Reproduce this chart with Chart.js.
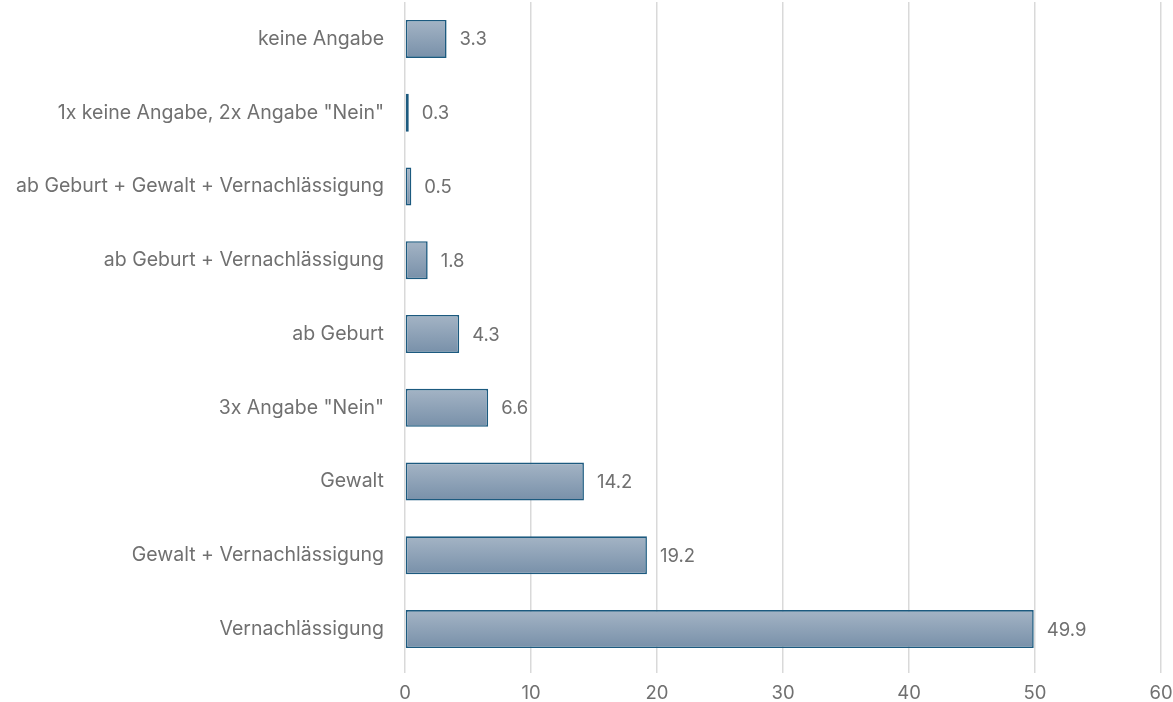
<!DOCTYPE html>
<html>
<head>
<meta charset="utf-8">
<script src="https://cdn.jsdelivr.net/npm/chart.js@4"></script>
<style>
  html, body { margin: 0; padding: 0; background: #fff; }
  .wrap { width: 1173px; height: 702px; position: relative; }
</style>
</head>
<body>
<div class="wrap"><canvas id="chart"></canvas></div>
<script>
const categories = [
  'keine Angabe',
  '1x keine Angabe, 2x Angabe "Nein"',
  'ab Geburt + Gewalt + Vernachlässigung',
  'ab Geburt + Vernachlässigung',
  'ab Geburt',
  '3x Angabe "Nein"',
  'Gewalt',
  'Gewalt + Vernachlässigung',
  'Vernachlässigung'
];
const values = [3.3, 0.3, 0.5, 1.8, 4.3, 6.6, 14.2, 19.2, 49.9];
const xTicks = [0, 10, 20, 30, 40, 50, 60];

const textColor = '#707070';
const fontFamily = 'Inter, "Open Sans", sans-serif';

function barFill(ctx) {
  const chart = ctx.chart;
  const y = chart.scales.y;
  if (!y) return '#8ea2b8';
  const cy = y.getPixelForValue(ctx.dataIndex);
  if (!isFinite(cy)) return '#8ea2b8';
  const g = chart.ctx.createLinearGradient(0, cy - 19, 0, cy + 19);
  g.addColorStop(0, '#a4b4c5');
  g.addColorStop(1, '#7890a9');
  return g;
}

const valueLabels = {
  id: 'valueLabels',
  afterDatasetsDraw(chart) {
    const ctx = chart.ctx;
    const meta = chart.getDatasetMeta(0);
    ctx.save();
    ctx.fillStyle = textColor;
    ctx.font = '18.5px ' + fontFamily;
    ctx.textAlign = 'left';
    ctx.textBaseline = 'middle';
    meta.data.forEach((bar, i) => {
      ctx.fillText(values[i].toFixed(1), bar.x + 13, bar.y + 1);
    });
    ctx.restore();
  }
};

new Chart(document.getElementById('chart'), {
  type: 'bar',
  data: {
    labels: categories,
    datasets: [{
      data: values,
      backgroundColor: barFill,
      borderColor: '#1c5a7f',
      borderWidth: 1.6,
      borderSkipped: false,
      categoryPercentage: 1,
      barPercentage: 0.515
    }]
  },
  options: {
    indexAxis: 'y',
    responsive: true,
    maintainAspectRatio: false,
    animation: false,
    layout: { padding: { top: 2, right: 12, left: 0, bottom: 0 } },
    plugins: {
      legend: { display: false },
      tooltip: { enabled: false }
    },
    scales: {
      x: {
        min: 0,
        max: 60,
        afterBuildTicks(scale) {
          scale.ticks = xTicks.map((v) => ({ value: v }));
        },
        border: { display: false },
        grid: { color: '#d9d9d9', lineWidth: 1.5, tickLength: 7, drawTicks: true },
        ticks: { color: textColor, font: { size: 18.5, family: fontFamily }, padding: 9 },
        afterFit(scale) {
          scale.height = 36;
          scale.paddingLeft = 0;
          scale.paddingRight = 0;
        }
      },
      y: {
        border: { display: false },
        grid: { display: false },
        ticks: { color: textColor, font: { size: 19.5, family: fontFamily }, padding: 13 },
        afterFit(scale) {
          scale.width = 405;
          scale.paddingTop = 0;
          scale.paddingBottom = 0;
        }
      }
    }
  },
  plugins: [valueLabels]
});
</script>
</body>
</html>
